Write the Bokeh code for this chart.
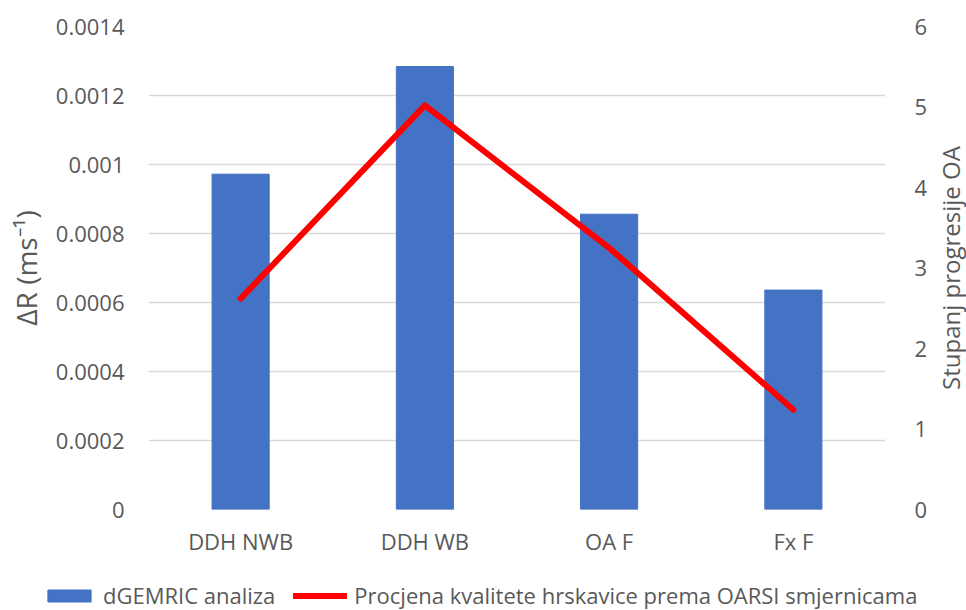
from bokeh.plotting import figure
from bokeh.models import (ColumnDataSource, Range1d, LinearAxis, FixedTicker,
                          CustomJSTickFormatter, Legend, LegendItem, FactorRange)
from bokeh.layouts import row, column
from bokeh.embed import file_html
from bokeh.resources import INLINE

categories = ["DDH NWB", "DDH WB", "OA F", "Fx F"]
dgemric = [0.000972, 0.001284, 0.000856, 0.000636]
oarsi = [2.62, 5.02, 3.25, 1.24]
left_ticks = [0, 0.0002, 0.0004, 0.0006, 0.0008, 0.001, 0.0012, 0.0014]
right_ticks = [0, 1, 2, 3, 4, 5, 6]
bar_label = "dGEMRIC analiza"
line_label = "Procjena kvalitete hrskavice prema OARSI smjernicama"

FONT = "Open Sans"
GRAY = "#595959"
BLUE = "#4472C4"
RED = "#FF0000"

src = ColumnDataSource(dict(cat=categories, dg=dgemric, oa=oarsi))

p = figure(frame_width=737, frame_height=483, output_backend="svg", toolbar_location=None,
           x_range=FactorRange(*categories), y_range=Range1d(0, 0.0014),
           min_border_left=148, min_border_right=40, min_border_top=26,
           min_border_bottom=58)
p.outline_line_color = None
p.extra_y_ranges = {"r": Range1d(0, 6)}

bars = p.vbar(x="cat", top="dg", width=0.31, source=src, color=BLUE)
line = p.line(x="cat", y="oa", source=src, y_range_name="r", line_color=RED,
              line_width=6, line_join="round", line_cap="round")

ax = p.yaxis[0]
ax.ticker = FixedTicker(ticks=left_ticks)
ax.formatter = CustomJSTickFormatter(code="return String(Number(tick.toPrecision(6)));")
ax.axis_label = "\u0394R (ms\u207b\u00b9)"

rax = LinearAxis(y_range_name="r", ticker=FixedTicker(ticks=right_ticks))
p.add_layout(rax, "right")


def style_axis(a):
    a.axis_line_color = None
    a.major_tick_line_color = None
    a.minor_tick_line_color = None
    a.major_tick_out = 0
    a.major_tick_in = 0
    a.minor_tick_out = 0
    a.minor_tick_in = 0
    a.major_label_text_font = FONT
    a.major_label_text_font_size = "22px"
    a.major_label_text_color = GRAY
    a.axis_label_text_font = FONT
    a.axis_label_text_font_size = "28px"
    a.axis_label_text_color = GRAY
    a.axis_label_text_font_style = "normal"


for a in [ax, rax, p.xaxis[0]]:
    style_axis(a)

ax.major_label_standoff = 24
rax.major_label_standoff = 29
p.xaxis[0].major_label_standoff = 16
ax.axis_label_standoff = 8

p.xgrid.grid_line_color = None
p.ygrid.grid_line_color = "#D9D9D9"
p.ygrid.grid_line_width = 1.5
p.ygrid[0].ticker = FixedTicker(ticks=left_ticks)

# narrow companion figure carrying the right-hand axis title (reads bottom-to-top)
q = figure(width=41, height=567, output_backend="svg", toolbar_location=None,
           x_axis_location=None, y_axis_location="left",
           x_range=Range1d(0, 1), y_range=Range1d(0, 6),
           min_border_left=35, min_border_right=0, min_border_top=26,
           min_border_bottom=58)
q.outline_line_color = None
q.grid.grid_line_color = None
qa = q.yaxis[0]
style_axis(qa)
qa.ticker = FixedTicker(ticks=[])
qa.major_label_standoff = 0
qa.axis_label = "Stupanj progresije OA"
qa.axis_label_standoff = 0
qa.axis_label_text_font_size = "24px"

# legend strip below the chart
lg = figure(width=966, height=43, output_backend="svg", toolbar_location=None,
            x_axis_location=None, y_axis_location=None,
            x_range=Range1d(0, 1), y_range=Range1d(0, 1),
            min_border_left=0, min_border_right=0, min_border_top=0, min_border_bottom=0)
lg.outline_line_color = None
lg.grid.grid_line_color = None
lb = lg.vbar(x=[5], top=[5], width=0.3, color=BLUE)
ll = lg.line(x=[5, 6], y=[5, 6], line_color=RED, line_width=6, line_cap="round")
legend = Legend(items=[LegendItem(label=bar_label, renderers=[lb]),
                       LegendItem(label=line_label, renderers=[ll])],
                orientation="horizontal", location=(42, 0),
                label_text_font=FONT, label_text_font_size="22px",
                label_text_color=GRAY, border_line_color=None,
                glyph_width=54, glyph_height=15, spacing=18, label_standoff=7,
                padding=0, margin=0, background_fill_alpha=0)
lg.add_layout(legend, "center")

layout = column(row(p, q), lg)
open("out.html", "w").write(file_html(layout, INLINE))
